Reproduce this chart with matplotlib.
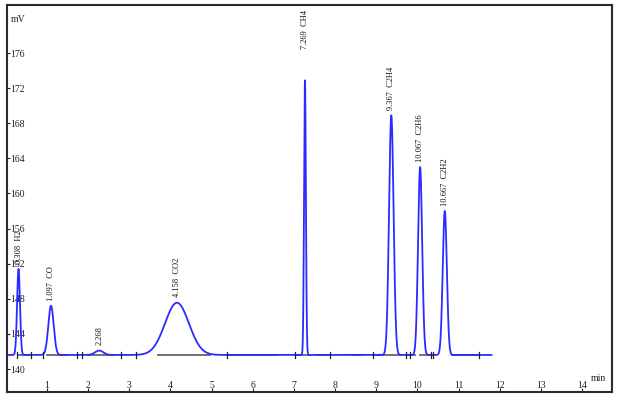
import numpy as np
import matplotlib.pyplot as plt

# peak table
peak_time = [0.308, 1.097, 2.268, 4.158, 7.269, 9.367, 10.067, 10.667]
peak_height = [151.4, 147.2, 142.1, 147.55, 172.9, 168.9, 163.0, 158.0]
peak_sigma = [0.035, 0.065, 0.1, 0.29, 0.022, 0.055, 0.05, 0.05]
peak_label = ['0.308  H2', '1.097  CO', '2.268', '4.158  CO2', '7.269  CH4',
              '9.367  C2H4', '10.067  C2H6', '10.667  C2H2']
baseline = 141.6

# integration marks and baseline segments (min)
marks = [0.28, 0.61, 0.91, 1.72, 1.86, 2.81, 3.16, 5.38, 7.02, 7.87, 8.92,
         9.73, 9.81, 10.34, 10.38, 11.51]
segments = [(0.3, 0.6), (1.0, 1.5), (2.0, 2.6), (3.7, 4.95), (5.38, 6.6),
            (7.02, 7.4), (7.55, 7.87), (8.4, 8.65), (8.92, 9.6), (9.73, 9.95),
            (10.06, 10.35), (10.85, 11.51)]

plt.rcParams['font.family'] = ['Liberation Serif', 'DejaVu Serif']

t = np.linspace(0.05, 11.8, 6000)
sig = np.full_like(t, baseline)
for tr, h, s in zip(peak_time, peak_height, peak_sigma):
    sig += (h - baseline) * np.exp(-0.5 * ((t - tr) / s) ** 2)

fig = plt.figure(figsize=(6.33, 4.0), dpi=100)
ax = fig.add_axes([7 / 633, 8 / 400, 605 / 633, 387 / 400])

for a, b in segments:
    ax.plot([a, b], [baseline, baseline], color='#666666', lw=1.3, zorder=1)
ax.plot(t, sig, color='#2b2bff', lw=1.3, zorder=2)
for m in marks:
    ax.plot([m, m], [baseline - 0.35, baseline + 0.35], color='#222222', lw=0.9, zorder=3)

for tr, h, lab in zip(peak_time, peak_height, peak_label):
    off = 0.6
    if 'CH4' in lab:
        off = 3.6
    ax.text(tr, h + off, lab, rotation=90, ha='center', va='bottom',
            fontsize=6, color='#111111')

ax.set_xlim(0.028, 14.73)
ax.set_ylim(137.38, 181.47)
ax.set_xticks(range(1, 15))
ax.set_yticks(range(140, 180, 4))
ax.tick_params(axis='x', direction='in', length=3, pad=-8, labelsize=7,
               colors='#222222')
ax.tick_params(axis='y', direction='in', length=2, pad=-2, labelsize=7,
               colors='#222222')
for lab in ax.get_yticklabels():
    lab.set_ha('left')

ax.text(0.006, 0.975, 'mV', transform=ax.transAxes, fontsize=7, va='top',
        ha='left', color='#222222')
ax.text(0.99, 0.035, 'min', transform=ax.transAxes, fontsize=7, va='center',
        ha='right', color='#222222')

for sp in ax.spines.values():
    sp.set_color('#2a2a2a')
    sp.set_linewidth(1.5)

fig.savefig('out.png', dpi=100)
